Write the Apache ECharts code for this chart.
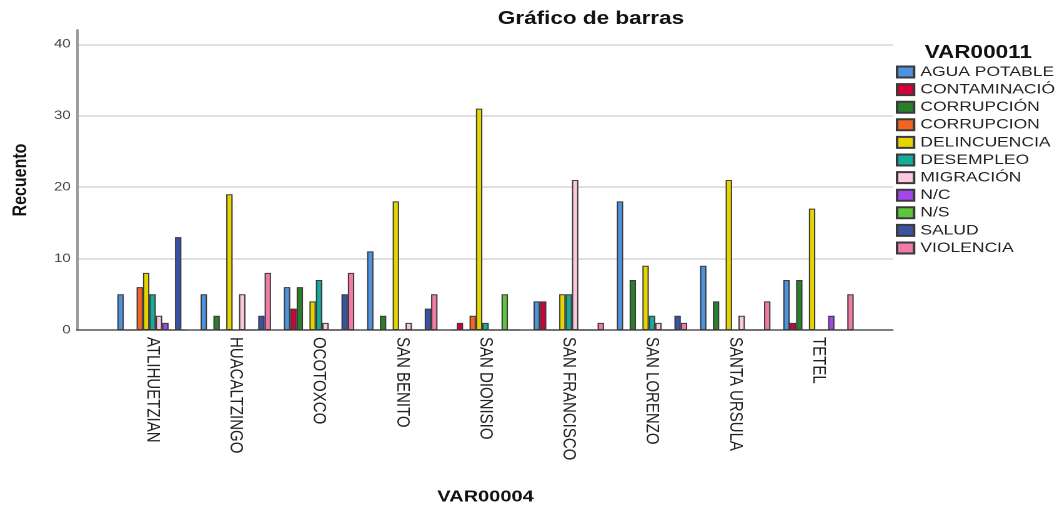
<!DOCTYPE html>
<html>
<head>
<meta charset="utf-8">
<title>Gráfico de barras</title>
<script src="https://cdn.jsdelivr.net/npm/echarts@6/dist/echarts.min.js"></script>
<style>
  html, body { margin: 0; padding: 0; background: #fff; overflow: hidden; }
  /* el original está estirado en horizontal, se dibuja a 850 y se escala */
  #main { width: 850px; height: 508px; transform: scaleX(1.24941); transform-origin: 0 0; }
</style>
</head>
<body>
<div id="main"></div>
<script>
var categories = ['ATLIHUETZIAN', 'HUACALTZINGO', 'OCOTOXCO', 'SAN BENITO', 'SAN DIONISIO',
  'SAN FRANCISCO', 'SAN LORENZO', 'SANTA URSULA', 'TETEL']

var seriesNames = ['AGUA POTABLE', 'CONTAMINACIÓ', 'CORRUPCIÓN', 'CORRUPCION', 'DELINCUENCIA',
  'DESEMPLEO', 'MIGRACIÓN', 'N/C', 'N/S', 'SALUD', 'VIOLENCIA']

// recuento por categoria, mismo orden que categories
var aguaPotable  = [5, 5, 6, 11, 0, 4, 18, 9, 7]
var contaminacio = [0, 0, 3, 0, 1, 4, 0, 0, 1]
var corrupcionA  = [0, 2, 6, 2, 0, 0, 7, 4, 7]
var corrupcionB  = [6, 0, 0, 0, 2, 0, 0, 0, 0]
var delincuencia = [8, 19, 4, 18, 31, 5, 9, 21, 17]
var desempleo    = [5, 0, 7, 0, 1, 5, 2, 0, 0]
var migracion    = [2, 5, 1, 1, 0, 21, 1, 2, 0]
var nc           = [1, 0, 0, 0, 0, 0, 0, 0, 2]
var ns           = [0, 0, 0, 0, 5, 0, 0, 0, 0]
var salud        = [13, 2, 5, 3, 0, 0, 2, 0, 0]
var violencia    = [0, 8, 8, 5, 0, 1, 1, 4, 5]

var yTicks = [0, 10, 20, 30, 40]

var values = [aguaPotable, contaminacio, corrupcionA, corrupcionB, delincuencia,
  desempleo, migracion, nc, ns, salud, violencia]
var colors = ['#4f93e0', '#d5003a', '#2b7f2b', '#f26522', '#e6d400',
  '#12ad9b', '#fbc8e0', '#a347eb', '#5ec53c', '#3953a4', '#f27aa7']

var series = seriesNames.map(function (name, i) {
  return {
    name: name,
    type: 'bar',
    xAxisIndex: 1,
    yAxisIndex: 1,
    barGap: '0%',
    barCategoryGap: '15.4%',
    itemStyle: { color: colors[i], borderColor: '#3a3a3a', borderWidth: 1 },
    emphasis: { disabled: true },
    data: values[i]
  }
})

var chart = echarts.init(document.getElementById('main'), null, { devicePixelRatio: 2 })
var option = {
  animation: false,
  textStyle: { fontFamily: 'Liberation Sans' },
  title: [
    {
      text: 'Gráfico de barras',
      left: 468,
      top: 5,
      textAlign: 'center',
      textStyle: { fontSize: 18, fontWeight: 'bold', color: '#111' }
    },
    {
      text: 'VAR00011',
      left: 778,
      top: 39,
      textAlign: 'center',
      textStyle: { fontSize: 18, fontWeight: 'bold', color: '#111' }
    }
  ],
  legend: {
    orient: 'vertical',
    left: 717,
    top: 65,
    padding: 0,
    itemWidth: 13.6,
    itemHeight: 11,
    itemGap: 3.6,
    icon: 'rect',
    selectedMode: false,
    textStyle: { fontSize: 14, color: '#222' },
    data: seriesNames
  },
  grid: [
    // marco: eje Y, lineas de rejilla y linea base
    { left: 61.6, right: 135.5, top: 30, bottom: 178, outerBoundsMode: 'none' },
    // barras
    { left: 88.8, right: 161.6, top: 30, bottom: 178, outerBoundsMode: 'none' }
  ],
  xAxis: [
    {
      type: 'value',
      gridIndex: 0,
      min: 0,
      max: 1,
      axisLine: { show: true, onZero: false, lineStyle: { color: '#555', width: 1.5 } },
      axisTick: { show: false },
      axisLabel: { show: false },
      splitLine: { show: false }
    },
    {
      type: 'category',
      gridIndex: 1,
      data: categories,
      name: 'VAR00004',
      nameLocation: 'middle',
      nameGap: 159,
      nameTextStyle: { fontSize: 16, fontWeight: 'bold', color: '#111' },
      axisLine: { show: false },
      axisTick: { show: false },
      axisLabel: { rotate: -90, margin: 7, fontSize: 15, color: '#222', interval: 0, padding: [8, 0, 0, 0] }
    }
  ],
  yAxis: [
    {
      type: 'value',
      gridIndex: 0,
      min: 0,
      max: 42,
      interval: 10,
      name: 'Recuento',
      nameLocation: 'middle',
      nameGap: 37,
      nameTextStyle: { fontSize: 16, fontWeight: 'bold', color: '#111' },
      axisLine: { show: true, lineStyle: { color: '#999', width: 2 } },
      axisTick: { show: false },
      axisLabel: {
        fontSize: 12,
        color: '#444',
        margin: 5,
        showMaxLabel: false,
        formatter: function (v) { return yTicks.indexOf(v) >= 0 ? String(v) : '' }
      },
      splitLine: { show: true, showMaxLine: false, showMinLine: false, lineStyle: { color: '#d6d6d6', width: 1.5 } }
    },
    {
      type: 'value',
      gridIndex: 1,
      min: 0,
      max: 42,
      show: false
    }
  ],
  series: series
}
chart.setOption(option)
window.addEventListener('resize', chart.resize)
</script>
</body>
</html>
